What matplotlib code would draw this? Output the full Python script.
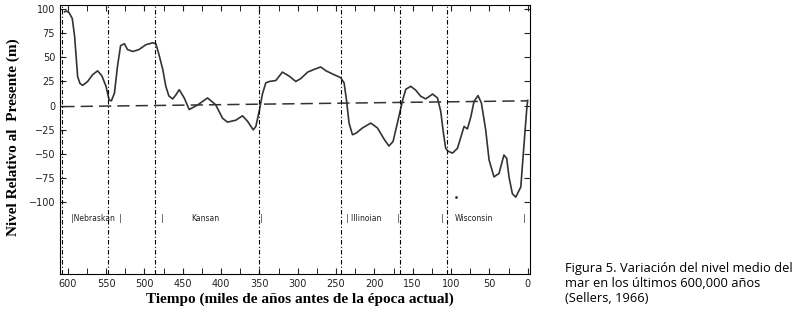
import numpy as np
from matplotlib import pyplot as plt

# sea level curve, years before present / metres
years = [604, 602, 598, 594, 591, 589, 587, 584, 580.5, 574, 567.5, 561, 555.5,
         550, 546, 543, 539, 535, 531, 526, 522, 515, 507, 498, 489, 485, 481,
         476, 472, 468, 463, 459, 454.5, 448, 441.5, 430, 417.6, 407, 398,
         391.5, 380.7, 372, 365.5, 358, 354.6, 350, 346, 341.6, 337, 328.5,
         320, 311, 302.5, 296, 287, 278.5, 270, 263, 252.5, 244, 239.5, 236.4,
         233, 228.6, 224, 215.5, 204.7, 196, 187, 181, 175.6, 170, 163, 159,
         152.5, 146, 139.5, 133, 124, 117.7, 113.4, 110, 107, 104, 98, 91.6,
         87, 83, 78.6, 74, 70, 64.8, 60.4, 54.8, 50.4, 44, 37.4, 31, 27.4,
         24.4, 20, 15.6, 9, 5, 1.3, 0]
level = [97, 98, 96, 90, 72, 51, 30, 23, 21, 25, 32, 36, 31,
         20, 6, 5, 13, 41, 62, 64, 58, 56, 58, 63, 65, 64, 53,
         37.5, 20, 10, 7, 11, 16.5, 8, -4, 1, 8, 1, -13,
         -17, -15, -10.5, -16, -25, -21.5, -5, 12, 23.6, 25, 26,
         34.7, 30.5, 25, 28, 34.7, 37.5, 40, 36, 32, 29, 23.6, 6,
         -18, -30, -28.5, -23, -18, -23, -35, -41.7, -37, -18, 6, 17,
         20, 16, 9.7, 7, 12, 8, -6, -28, -44, -47, -49, -44,
         -32, -21.5, -24, -11, 4.5, 10.4, 2.8, -25, -56, -73.6, -70, -51, -54.5,
         -73.6, -91, -94.5, -84, -42, -4, 5.5]

ref_years = [607, 0]
ref_level = [-1, 5]

boundaries = [607, 547, 486, 350, 243, 167, 105]

stage_text = ['|Nebraskan', '|', '|', 'Kansan', '|', '| Illinoian', '|', '|', 'Wisconsin', '|']
stage_pos = [596, 532, 476, 420, 347, 237, 169, 111, 70, 5]
stage_ha = ['left', 'center', 'center', 'center', 'center', 'left', 'center', 'center', 'center', 'center']

xticks = [600, 550, 500, 450, 400, 350, 300, 250, 200, 150, 100, 50, 0]
yticks = [100, 75, 50, 25, 0, -25, -50, -75, -100]

fig = plt.figure(figsize=(7.97, 3.15), dpi=100)
ax = fig.add_axes([0.0753, 0.13, 0.5897, 0.854])

ax.plot(years, level, color='#333333', lw=1.2)
ax.plot(ref_years, ref_level, color='#333333', lw=1.1, dashes=(8, 4))
ax.plot([94], [-94], marker='.', ms=2, color='#333333')
for b in boundaries:
    ax.axvline(b, color='black', lw=0.8, linestyle=(0, (4, 2, 1, 2)))

for s, p, h in zip(stage_text, stage_pos, stage_ha):
    ax.text(p, -117, s, ha=h, va='center', fontsize=5.5, color='#222222')

ax.set_xlim(610, -3)
ax.set_ylim(-174, 104)
ax.set_xticks(xticks)
ax.set_xticks(np.arange(0, 601, 25), minor=True)
ax.set_yticks(yticks)
ax.tick_params(axis='both', direction='in', labelsize=7, colors='#222222',
               top=True, right=True, length=4)
ax.tick_params(which='minor', direction='in', top=True, length=4)
ax.tick_params(axis='y', labelright=False)

ax.set_ylabel('Nivel Relativo al  Presente (m)', family='Liberation Serif',
              fontweight='bold', fontsize=11)
ax.set_xlabel('Tiempo (miles de años antes de la época actual)',
              family='Liberation Serif', fontweight='bold', fontsize=11)
ax.yaxis.set_label_coords(-0.085, 0.51)
ax.xaxis.set_label_coords(0.51, -0.07)

fig.text(0.709, 0.10, 'Figura 5. Variación del nivel medio del\nmar en los últimos 600,000 años\n(Sellers, 1966)',
         fontsize=9.3, family='Open Sans', va='center', linespacing=1.2)

fig.savefig('out.png', dpi=100)
